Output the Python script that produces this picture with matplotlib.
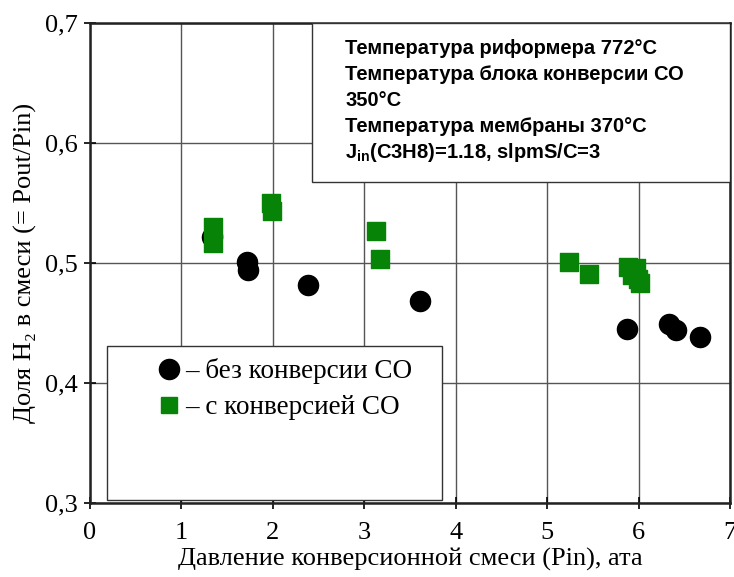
import matplotlib
matplotlib.use("Agg")
import matplotlib.pyplot as plt
from matplotlib.lines import Line2D
from matplotlib.patches import Rectangle

plt.rcParams['mathtext.fontset'] = 'custom'
plt.rcParams['mathtext.rm'] = 'Liberation Sans:bold'
plt.rcParams['mathtext.bf'] = 'Liberation Sans:bold'

# Data: without CO conversion (black circles)
x_no_conv = [1.33, 1.72, 1.73, 2.38, 3.61, 5.87, 6.33, 6.41, 6.67]
y_no_conv = [0.522, 0.501, 0.494, 0.482, 0.468, 0.445, 0.449, 0.444, 0.438]

# Data: with CO conversion (green squares)
x_conv = [1.35, 1.35, 1.98, 1.99, 3.13, 3.17, 5.24, 5.46, 5.88, 5.97, 5.93, 5.99, 6.02]
y_conv = [0.530, 0.517, 0.550, 0.543, 0.527, 0.503, 0.501, 0.491, 0.497, 0.496, 0.490, 0.487, 0.483]

x_ticks = [0, 1, 2, 3, 4, 5, 6, 7]
y_ticks = [0.3, 0.4, 0.5, 0.6, 0.7]
y_tick_labels = ['0,3', '0,4', '0,5', '0,6', '0,7']

label_no_conv = '– без конверсии СО'
label_conv = '– с конверсией СО'
info_lines = [
    'Температура риформера 772°C',
    'Температура блока конверсии СО',
    '350°C',
    'Температура мембраны 370°C',
    'J$_{\\mathbf{in}}$(C3H8)=1.18, slpmS/C=3',
]

green = '#078307'
serif = ['Liberation Serif', 'DejaVu Serif']

fig = plt.figure(figsize=(7.34, 5.77), dpi=100)
ax = fig.add_axes([90/734, 1 - 503/577, (730-90)/734, (503-23)/577])

ax.set_xlim(0, 7)
ax.set_ylim(0.3, 0.7)
ax.set_xticks(x_ticks)
ax.set_yticks(y_ticks)
ax.set_xticklabels([str(v) for v in x_ticks], fontfamily=serif, fontsize=19)
ax.set_yticklabels(y_tick_labels, fontfamily=serif, fontsize=19)
ax.tick_params(direction='inout', length=9, width=1.2)
ax.tick_params(axis='x', pad=9)
ax.tick_params(axis='y', pad=4)
ax.grid(True, color='#555555', linewidth=1.0)
ax.set_axisbelow(True)
for s in ax.spines.values():
    s.set_linewidth(1.8)
    s.set_color('#222222')

ax.scatter(x_no_conv, y_no_conv, s=210, marker='o', color='black', zorder=3)
ax.scatter(x_conv, y_conv, s=175, marker='s', color=green, zorder=4)

ax.set_xlabel('Давление конверсионной смеси (Pin), ата', fontfamily=serif, fontsize=19, labelpad=3)
ax.set_ylabel('Доля H₂ в смеси (= Pout/Pin)', fontfamily=serif, fontsize=19, labelpad=6)

# Legend box (large white frame)
ax.add_patch(Rectangle(((107-90)/640, (503-500)/480), (442-107)/640, (500-346)/480,
                       transform=ax.transAxes, facecolor='white', edgecolor='#333333',
                       linewidth=1.0, zorder=5))
handles = [
    Line2D([], [], marker='o', color='black', linestyle='None', markersize=14.5),
    Line2D([], [], marker='s', color=green, linestyle='None', markersize=12),
]
leg = ax.legend(handles, [label_no_conv, label_conv], loc='upper left',
                bbox_to_anchor=((158-90)/640, (503-358)/480), frameon=False,
                prop={'family': serif, 'size': 19.5}, handlelength=0.8,
                handletextpad=0.2, labelspacing=0.42, borderaxespad=0, borderpad=0)
leg.set_zorder(6)

# Info box
ax.add_patch(Rectangle(((312-90)/640, (503-182)/480), (730-312)/640, (182-23)/480,
                       transform=ax.transAxes, facecolor='white', edgecolor='#333333',
                       linewidth=1.0, zorder=5))
line_y = [48, 75, 101, 127, 153]
for txt, py in zip(info_lines, line_y):
    ax.text((345-90)/640, (503-py)/480, txt, transform=ax.transAxes,
            fontfamily='Liberation Sans', fontweight='bold', fontsize=14.5,
            va='center', ha='left', zorder=7)

fig.savefig('out.png', dpi=100)
